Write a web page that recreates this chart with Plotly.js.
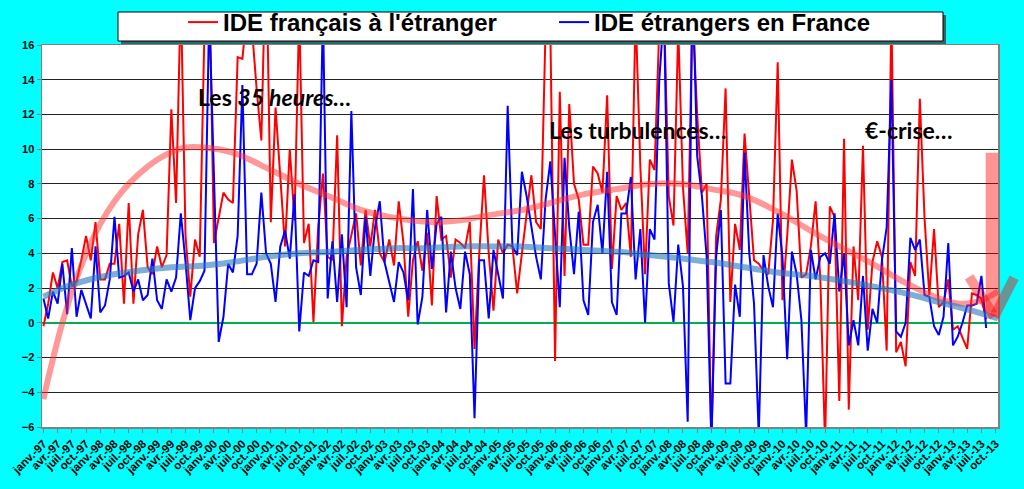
<!DOCTYPE html>
<html>
<head>
<meta charset="utf-8">
<script src="https://cdn.plot.ly/plotly-3.0.1.min.js"></script>
<style>
  html, body { margin: 0; padding: 0; background: #00ffff; }
  #chart { width: 1024px; height: 489px; }
</style>
</head>
<body>
<div id="chart"></div>
<script>
// month labels, janv.-97 .. oct.-13
const monthNames = ['janv.', 'févr.', 'mars', 'avr.', 'mai', 'juin', 'juil.', 'août', 'sept.', 'oct.', 'nov.', 'déc.'];
const firstYear = 1997;
const nCategories = 202;

// IDE français à l'étranger (monthly, janv.-97 .. août-13)
const ideFrancais = [
  -0.2, 1.1, 2.9, 2.0, 3.5, 3.6, 2.1, 2.4, 3.6, 5.0, 3.6, 5.8, 2.5, 2.5, 3.4, 3.4, 5.7, 1.1, 6.9, 1.1,
  5.1, 6.5, 3.2, 2.8, 4.4, 3.2, 3.9, 12.3, 6.9, 19, 5.0, 1.5, 4.8, 3.8,
  17, 20, 4.6, 6.1, 7.5, 7.1, 6.9, 15.3, 15.2, 18, 17, 13.5, 10.5, 22, 5.8, 12.4, 8.6, 4.4, 10.0, 5.9,
  18, 4.6, 5.7, 0.05, 5.5, 8.6, 3.8, 3.6, 10.8, -0.2, 3.8, 5.0, 6.3, 3.3,
  6.5, 4.4, 6.5, 4.0, 3.5, 4.8, 3.3, 7.0, 4.6, 0.35, 3.6, 4.7, 3.0, 5.2, 1.0, 7.3, 4.8, 5.0, 2.6, 4.8,
  4.6, 4.3, 5.8, -1.5, 4.0, 8.5, 4.0, 0.7, 4.8, 4.0, 4.5, 4.4, 1.7, 4.0,
  6.3, 8.5, 5.8, 5.4, 17, 17, -2.2, 13.3, 2.7, 12.6, 8.0, 7.1, 4.5, 4.5, 9.0, 8.6, 7.5, 13.1, 3.1, 7.3,
  6.5, 6.9, 3.8, 18, 9.0, 2.8, 9.4, 8.8, 17, 18, 7.3, 5.6, 17, 7.8,
  4.0, 18, 12, 7.5, 8.0, -7, 5.0, 7.1, 13.5, 1.2, 5.7, 4.2, 10.9, 7.0, 3.6, 3.4, 3.0, 2.8, 5.9, 15.0,
  1.3, 5.0, 9.4, 7.6, 2.6, 2.8, 4.4, 7.0, 2.5, -7, 6.7, 6.1, -4.5,
  10.6, -5.0, 4.4, 1.3, 10.2, -0.4, 3.5, 4.7, 3.8, -1.6, 18, -1.7, -1.1, -2.5, 3.5, 2.7, 12.9, 6.0, 1.6, 5.4,
  0.9, 1.2, 2.5, -0.4, -0.2, -0.8, -1.5, 1.7, 1.6, 1.4, 0.2
];

// IDE étrangers en France
const ideEtrangers = [
  1.4, 0.25, 1.8, 1.1, 3.4, 0.5, 4.3, 0.35, 1.9, 1.0, 0.25, 4.4, 0.6, 1.0, 2.5, 6.1, 2.6, 2.7, 2.9, 1.8,
  2.5, 1.3, 1.6, 3.7, 1.3, 0.8, 2.5, 1.8, 2.6, 6.3, 3.5, 0.15, 2.0, 2.4,
  3.0, 18, 8.0, -1.1, 0.35, 3.4, 2.9, 5.0, 13.7, 2.8, 2.8, 3.4, 7.5, 4.0, 3.4, 1.2, 4.4, 5.3, 3.7, 7.4,
  -0.5, 2.9, 2.7, 3.6, 3.5, 18, 1.4, 4.7, 1.2, 5.1, 0.9, 12.2, 3.2, 1.6,
  6.1, 2.7, 5.5, 7.0, 3.5, 2.3, 1.2, 3.5, 2.9, 1.3, 7.7, -0.1, 1.5, 6.5, 3.1, 5.7, 6.1, 0.6, 4.1, 2.0,
  0.8, 4.1, 2.8, -5.5, 3.6, 3.6, 0.25, 4.2, 2.8, 1.4, 12.5, 4.4, 3.9, 8.7,
  7.3, 5.5, 3.8, 2.5, 7.1, 9.3, 4.8, 0.9, 9.5, 5.5, 2.8, 6.4, 1.3, 0.45, 5.8, 6.8, 4.0, 8.7, 1.2, 0.45,
  6.3, 6.3, 8.4, 2.5, 5.4, 0.0, 5.4, 4.8, 14, 18, 2.3, 0.05, 4.5, 2.1,
  -5.7, 20, 9.6, 7.3, 3.8, -7, 3.8, 6.5, -3.5, -3.5, 2.2, 0.35, 9.8, 4.0, 1.1, -6.5, 3.9, 2.1, 0.9, 6.3,
  3.8, -2.1, 4.1, 2.8, 0.15, -6.5, 4.2, 2.5, 3.8, 4.0, 3.4, 6.3, 1.8,
  4.0, -1.3, 0.15, -1.3, 2.7, -1.6, 0.8, 0.0, 3.6, 5.5, 14.0, -0.5, -0.8, 0.0, 4.9, 4.2, 4.8, 1.6, 1.5, -0.2,
  -0.7, 0.35, 4.6, -1.3, -0.8, 0.0, 1.0, 1.0, 1.1, 2.7, -0.3
];

// polynomial trend curves at a few months
const trendRedX = [0, 1, 2, 3, 4, 5, 6, 8, 10, 12, 15, 18, 22, 26, 30, 34, 40, 48, 54, 61, 67, 73, 82, 88, 94, 101, 107, 114, 121, 128, 135, 141, 148, 155, 162, 168, 175, 182, 189, 194, 198, 201.5];
const trendRedY = [-4.4, -3.2, -2.1, -1.0, 0.0, 0.9, 1.8, 3.3, 4.6, 5.7, 7.0, 8.0, 9.0, 9.7, 10.1, 10.1, 9.8, 8.8, 8.0, 7.2, 6.5, 6.1, 5.8, 5.9, 6.2, 6.5, 6.9, 7.4, 7.7, 8.0, 8.0, 7.7, 7.3, 6.4, 5.3, 4.4, 3.4, 2.3, 1.4, 1.1, 1.3, 1.8];
const trendBlueX = [0, 6, 13, 20, 27, 34, 40, 47, 54, 61, 67, 74, 81, 88, 95, 101, 107, 114, 121, 128, 135, 141, 148, 155, 162, 169, 175, 182, 189, 196, 201.5];
const trendBlueY = [1.5, 2.2, 2.7, 3.0, 3.2, 3.3, 3.5, 3.8, 4.0, 4.1, 4.2, 4.3, 4.3, 4.4, 4.4, 4.4, 4.3, 4.2, 4.1, 3.9, 3.7, 3.5, 3.2, 2.9, 2.7, 2.4, 2.1, 1.7, 1.2, 0.7, 0.25];

const seriesNames = ["IDE français à l'étranger", 'IDE étrangers en France'];
const notes = [
  { text: 'Les <i>35 heures…</i>', month: 48.8, value: 13.0 },
  { text: 'Les turbulences…', month: 125.4, value: 11.1 },
  { text: '€-crise…', month: 182.8, value: 11.1 }
];

const categories = [];
for (let k = 0; k < nCategories; k++) {
  const yy = String((firstYear + Math.floor(k / 12)) % 100).padStart(2, '0');
  categories.push(monthNames[k % 12] + '-' + yy);
}
const tickVals = [], tickText = [];
for (let k = 0; k < nCategories; k += 3) { tickVals.push(k); tickText.push(categories[k]); }
const months = ideFrancais.map((_, i) => i);

const xRange = [-0.3, 201.5];
const yRange = [-6, 16];
const xp = m => (m - xRange[0]) / (xRange[1] - xRange[0]);
const yp = v => (v - yRange[0]) / (yRange[1] - yRange[0]);

const traces = [
  { x: months, y: ideFrancais, name: seriesNames[0], type: 'scatter', mode: 'lines', line: { color: '#ff0000', width: 2 } },
  { x: months, y: ideEtrangers, name: seriesNames[1], type: 'scatter', mode: 'lines', line: { color: '#0000ff', width: 2 } },
  { x: trendRedX, y: trendRedY, type: 'scatter', mode: 'lines', showlegend: false, hoverinfo: 'skip',
    line: { color: 'rgba(255,50,50,0.5)', width: 6, shape: 'spline', smoothing: 1 } },
  { x: trendBlueX, y: trendBlueY, type: 'scatter', mode: 'lines', showlegend: false, hoverinfo: 'skip',
    line: { color: 'rgba(40,120,190,0.6)', width: 6, shape: 'spline', smoothing: 1 } }
];

// legend frame (drawn by hand so it can be wide like the original)
const W = 1024, H = 489, mL = 42, mR = 26, mT = 45, mB = 62;
const pw = W - mL - mR, ph = H - mT - mB;
const px = x => (x - mL) / pw, py = y => (H - mB - y) / ph;

const arrowColor = 'rgba(255,0,0,0.42)';
const shapes = [
  { type: 'rect', xref: 'paper', yref: 'paper', x0: px(121), x1: px(946), y0: py(44), y1: py(15), fillcolor: '#2a6a6a', line: { width: 0 } },
  { type: 'rect', xref: 'paper', yref: 'paper', x0: px(118), x1: px(943), y0: py(41), y1: py(12), fillcolor: '#ffffff', line: { color: '#000000', width: 1 } },
  // the down arrow at the right end
  { type: 'rect', xref: 'paper', yref: 'paper', x0: xp(198.9), x1: xp(201.5), y0: yp(0.6), y1: yp(9.8), fillcolor: arrowColor, line: { width: 0 } },
  { type: 'line', xref: 'paper', yref: 'paper', x0: xp(195.4), y0: yp(2.65), x1: xp(200.7), y1: yp(0.35), line: { color: arrowColor, width: 10 } },
  { type: 'line', xref: 'paper', yref: 'paper', x0: xp(200.7), y0: yp(0.35), x1: xp(204.9), y1: yp(2.6), line: { color: arrowColor, width: 10 } }
];

const annotations = notes.map(n => ({
  x: n.month, y: n.value, xref: 'x', yref: 'y', text: n.text, showarrow: false,
  font: { family: 'Lato, "Open Sans", sans-serif', size: 23, weight: 700, color: '#000000' }
}));

const tickFont = { family: 'Arial, "Liberation Sans", sans-serif', size: 11, weight: 700, color: '#000000' };

const layout = {
  width: W, height: H,
  paper_bgcolor: '#00ffff', plot_bgcolor: '#ffffff',
  margin: { l: mL, r: mR, t: mT, b: mB, autoexpand: false },
  showlegend: true,
  legend: {
    orientation: 'h', x: px(183), xanchor: 'left', y: py(0), yanchor: 'top',
    bgcolor: 'rgba(0,0,0,0)', borderwidth: 0, entrywidth: 326, entrywidthmode: 'pixels',
    font: { family: 'Arial, "Liberation Sans", sans-serif', size: 24, weight: 700, color: '#000000' }
  },
  xaxis: {
    range: xRange, tickmode: 'array', tickvals: tickVals, ticktext: tickText, tickangle: -45,
    tickfont: { ...tickFont, size: 11.5 }, ticks: 'outside', ticklen: 4, tickcolor: '#808080',
    showgrid: false, zeroline: false, showline: true, linecolor: '#808080', linewidth: 1.5, mirror: true
  },
  yaxis: {
    range: yRange, dtick: 2, tickfont: tickFont, ticks: 'outside', ticklen: 4, tickcolor: '#808080',
    showgrid: true, gridcolor: '#222222', gridwidth: 1,
    zeroline: true, zerolinecolor: '#00b050', zerolinewidth: 2.5,
    showline: true, linecolor: '#808080', linewidth: 1.5, mirror: true
  },
  shapes: shapes,
  annotations: annotations
};

Plotly.newPlot('chart', traces, layout, { staticPlot: true });
</script>
</body>
</html>
